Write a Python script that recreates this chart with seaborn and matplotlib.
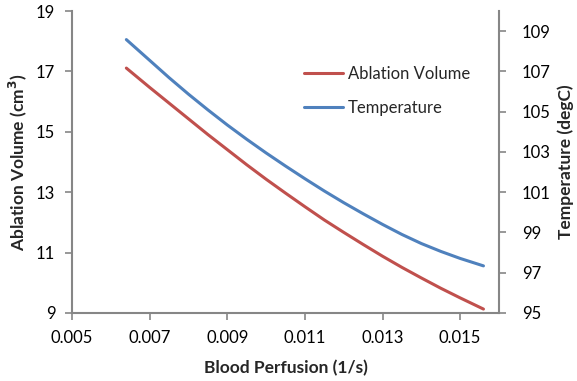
import matplotlib
matplotlib.use("Agg")
import matplotlib.pyplot as plt
import seaborn as sns
import pandas as pd

# Blood perfusion (1/s) and the resulting ablation volume / peak temperature
perfusion = [0.0064, 0.0070, 0.0075, 0.0080, 0.0085, 0.0090, 0.0095, 0.0100, 0.0105,
             0.0110, 0.0115, 0.0120, 0.0125, 0.0130, 0.0135, 0.0140, 0.0145, 0.0150, 0.0156]
ablation_volume = [17.11, 16.47, 15.95, 15.43, 14.91, 14.41, 13.91, 13.43, 12.97,
                   12.52, 12.08, 11.67, 11.27, 10.88, 10.51, 10.16, 9.82, 9.50, 9.13]
temperature = [108.58, 107.55, 106.69, 105.87, 105.09, 104.34, 103.63, 102.95, 102.30,
               101.67, 101.06, 100.48, 99.93, 99.40, 98.90, 98.45, 98.06, 97.71, 97.34]

x_ticks = [0.005, 0.007, 0.009, 0.011, 0.013, 0.015]
left_ticks = [9, 11, 13, 15, 17, 19]
right_ticks = [95, 97, 99, 101, 103, 105, 107, 109]

df = pd.DataFrame({"perfusion": perfusion,
                   "volume": ablation_volume,
                   "temperature": temperature})

sns.set_style("white")
plt.rcParams["font.family"] = ["Lato", "DejaVu Sans"]

RED = "#C0504D"
BLUE = "#4F81BD"
GRAY = "#868686"

fig = plt.figure(figsize=(5.77, 3.81), dpi=100)
ax = fig.add_axes([0.1248, 0.1785, 0.74, 0.7926])
ax2 = ax.twinx()

sns.lineplot(data=df, x="perfusion", y="volume", ax=ax, color=RED,
             linewidth=2.2, label="Ablation Volume", legend=False)
sns.lineplot(data=df, x="perfusion", y="temperature", ax=ax2, color=BLUE,
             linewidth=2.2, label="Temperature", legend=False)

ax.set_xlim(0.005, 0.016)
ax.set_ylim(9, 19)
ax2.set_ylim(95, 110)
ax.set_xticks(x_ticks)
ax.set_xticklabels([f"{v:.3f}" for v in x_ticks])
ax.set_yticks(left_ticks)
ax2.set_yticks(right_ticks)

for a in (ax, ax2):
    for s in a.spines.values():
        s.set_visible(False)
    a.tick_params(colors=GRAY, labelcolor="black", labelsize=12,
                  length=5, width=1.2, direction="out")
ax.spines["left"].set_visible(True)
ax.spines["bottom"].set_visible(True)
ax2.spines["right"].set_visible(True)
for s in (ax.spines["left"], ax.spines["bottom"], ax2.spines["right"]):
    s.set_color(GRAY)
    s.set_linewidth(1.5)
ax.tick_params(axis="x", bottom=True, pad=7)
ax.tick_params(axis="y", left=True, pad=7)
ax2.tick_params(axis="y", right=True, pad=11.5)

ax.set_xlabel("Blood Perfusion (1/s)", fontsize=12.5, fontweight="bold")
ax.set_ylabel("Ablation Volume (cm$^\\mathbf{3}$)", fontsize=12.5, fontweight="bold")
ax2.set_ylabel("Temperature (degC)", fontsize=12.5, fontweight="bold")
ax.xaxis.set_label_coords(0.5, -0.182)
ax.xaxis.label.set_va("center")
ax.yaxis.set_label_coords(-0.126, 0.5)
ax.yaxis.label.set_va("center")
ax2.yaxis.set_label_coords(1.157, 0.5)
ax2.yaxis.label.set_va("center")

handles = ax.get_lines()[:1] + ax2.get_lines()[:1]
ax2.legend(handles, ["Ablation Volume", "Temperature"], loc="upper left",
           bbox_to_anchor=(0.508, 0.868), frameon=False, fontsize=12,
           handlelength=2.35, handletextpad=0.3, labelspacing=1.08)

fig.savefig("out.png", dpi=100)
